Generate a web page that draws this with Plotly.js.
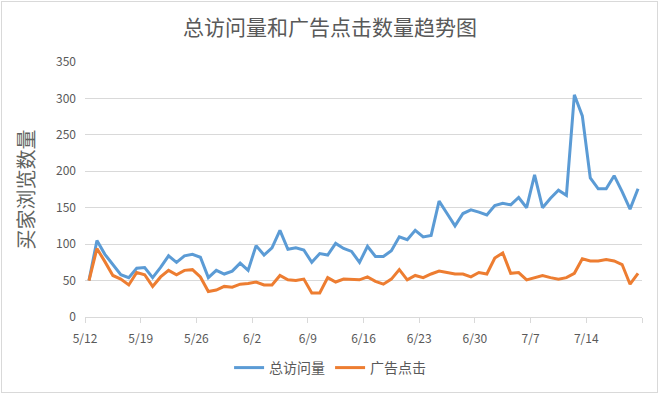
<!DOCTYPE html>
<html>
<head>
<meta charset="utf-8">
<script src="https://cdn.plot.ly/plotly-3.0.1.min.js"></script>
<style>
  html, body { margin: 0; padding: 0; background: #ffffff; }
  #wrap { position: relative; width: 660px; height: 396px; }
  #chart { width: 660px; height: 396px; }
  #frame { position: absolute; left: 1px; top: 1px; width: 655px; height: 390px;
           border: 1px solid #d9d9d9; pointer-events: none; }
</style>
</head>
<body>
<div id="wrap"><div id="chart"></div><div id="frame"></div></div>
<script>
const dates = [
  '2019-05-12','2019-05-13','2019-05-14','2019-05-15','2019-05-16','2019-05-17','2019-05-18',
  '2019-05-19','2019-05-20','2019-05-21','2019-05-22','2019-05-23','2019-05-24','2019-05-25',
  '2019-05-26','2019-05-27','2019-05-28','2019-05-29','2019-05-30','2019-05-31','2019-06-01',
  '2019-06-02','2019-06-03','2019-06-04','2019-06-05','2019-06-06','2019-06-07','2019-06-08',
  '2019-06-09','2019-06-10','2019-06-11','2019-06-12','2019-06-13','2019-06-14','2019-06-15',
  '2019-06-16','2019-06-17','2019-06-18','2019-06-19','2019-06-20','2019-06-21','2019-06-22',
  '2019-06-23','2019-06-24','2019-06-25','2019-06-26','2019-06-27','2019-06-28','2019-06-29',
  '2019-06-30','2019-07-01','2019-07-02','2019-07-03','2019-07-04','2019-07-05','2019-07-06',
  '2019-07-07','2019-07-08','2019-07-09','2019-07-10','2019-07-11','2019-07-12','2019-07-13',
  '2019-07-14','2019-07-15','2019-07-16','2019-07-17','2019-07-18','2019-07-19','2019-07-20'
];

const totalVisits = [
  50,105,86,72,58,54,67,
  68,54,68,84,75,84,86,
  82,54,64,59,63,74,64,
  98,85,95,119,93,95,92,
  75,87,85,101,94,90,75,
  97,83,83,91,110,106,119,
  110,112,159,142,125,142,147,
  144,140,153,156,154,164,150,
  195,150,163,174,167,305,276,
  191,176,176,194,172,148,176
];

const adClicks = [
  50,94,76,57,52,44,61,
  58,42,55,64,58,64,65,
  55,35,37,42,41,45,46,
  48,44,44,57,51,50,52,
  33,33,54,48,52,52,51,
  55,49,45,52,65,51,57,
  54,59,63,61,59,59,55,
  61,59,81,88,60,61,51,
  54,57,54,52,54,60,80,
  77,77,79,77,72,45,60
];

const tickDates = ['2019-05-12','2019-05-19','2019-05-26','2019-06-02','2019-06-09','2019-06-16',
                   '2019-06-23','2019-06-30','2019-07-07','2019-07-14','2019-07-21'];
const tickLabels = ['5/12','5/19','5/26','6/2','6/9','6/16','6/23','6/30','7/7','7/14',''];

const seriesNames = ['总访问量','广告点击'];
const titleText = '总访问量和广告点击数量趋势图';
const yTitleText = '买家浏览数量';

const font = '"Noto Sans CJK SC", "Noto Sans", sans-serif';
const grey = '#595959';

const traces = [
  { x: dates, y: totalVisits, name: seriesNames[0], type: 'scatter', mode: 'lines',
    xperiod: 86400000, xperiodalignment: 'middle',
    line: { color: '#5B9BD5', width: 3 } },
  { x: dates, y: adClicks, name: seriesNames[1], type: 'scatter', mode: 'lines',
    xperiod: 86400000, xperiodalignment: 'middle',
    line: { color: '#ED7D31', width: 3 } }
];

const layout = {
  width: 660, height: 396,
  margin: { l: 85, r: 18, t: 62, b: 75 },
  paper_bgcolor: '#ffffff', plot_bgcolor: '#ffffff',
  font: { family: font, color: grey, size: 12 },
  title: { text: titleText, x: 0.5, xanchor: 'center', y: 0.93, yanchor: 'middle',
           font: { family: font, size: 21, color: grey } },
  xaxis: {
    type: 'date', range: ['2019-05-12', '2019-07-21'],
    tickmode: 'array', tickvals: tickDates, ticktext: tickLabels,
    showgrid: false, zeroline: false,
    showline: true, linecolor: '#d9d9d9', linewidth: 1,
    ticks: 'outside', ticklen: 5, tickcolor: '#d9d9d9',
    ticklabelstandoff: 6,
    tickfont: { family: font, size: 12, color: grey }
  },
  yaxis: {
    range: [0, 350], dtick: 50, tick0: 0,
    showgrid: true, gridcolor: '#d9d9d9', gridwidth: 1,
    zeroline: false, showline: false, ticks: '',
    ticklabelstandoff: 8,
    tickfont: { family: font, size: 12, color: grey },
    title: { text: yTitleText, standoff: 16, font: { family: font, size: 20, color: '#5f6360' } }
  },
  showlegend: true,
  legend: { orientation: 'h', x: 0.44, xanchor: 'center', y: -0.2, yanchor: 'middle',
            font: { family: font, size: 14, color: grey }, itemwidth: 30, tracegroupgap: 0 }
};

Plotly.newPlot('chart', traces, layout, { displayModeBar: false, staticPlot: true });
</script>
</body>
</html>
